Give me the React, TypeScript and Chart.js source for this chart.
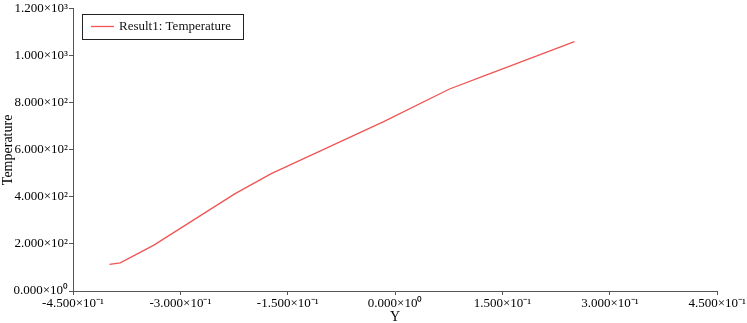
import React, { useEffect, useRef } from "react";
import { Chart, registerables } from "chart.js";

Chart.register(...registerables);

const seriesLabel = "Result1: Temperature";
const yPositions = [-0.399, -0.384, -0.337, -0.2235, -0.173, -0.136, -0.016, 0.076, 0.127, 0.2505];
const temperatures = [113, 120, 195, 414, 499, 551, 720, 859, 918, 1060];
const xTicks = [-0.45, -0.3, -0.15, 0, 0.15, 0.3, 0.45];
const yTicks = [0, 200, 400, 600, 800, 1000, 1200];

const SUP: Record<string, string> = {
  "0": "⁰", "1": "¹", "2": "²", "3": "³", "4": "⁴", "5": "⁵",
  "6": "⁶", "7": "⁷", "8": "⁸", "9": "⁹", "-": "⁻",
};

function fmt(v: number): string {
  const s = Number(v).toExponential(3);
  const [m, e] = s.split("e");
  const exp = String(parseInt(e, 10));
  return m + "×10" + exp.split("").map((c) => SUP[c] || c).join("");
}

const FONT = "'Liberation Serif', 'Times New Roman', serif";

const legendBox = {
  id: "legendBox",
  afterDraw(chart: any) {
    const ctx = chart.ctx;
    const ds = chart.data.datasets[0];
    const x = 82, y = 14, w = 161, h = 25;
    ctx.save();
    ctx.fillStyle = "#fff";
    ctx.fillRect(x, y, w, h);
    ctx.strokeStyle = "#222";
    ctx.lineWidth = 1;
    ctx.strokeRect(x + 0.5, y + 0.5, w, h);
    ctx.strokeStyle = ds.borderColor;
    ctx.lineWidth = 1.3;
    ctx.beginPath();
    ctx.moveTo(x + 9, y + 12.5);
    ctx.lineTo(x + 32, y + 12.5);
    ctx.stroke();
    ctx.fillStyle = "#111";
    ctx.font = "13px " + FONT;
    ctx.textBaseline = "middle";
    ctx.fillText(ds.label, x + 37, y + 13);
    ctx.restore();
  },
};

export default function App() {
  const ref = useRef<HTMLCanvasElement>(null);
  useEffect(() => {
    const chart = new Chart(ref.current!, {
      type: "scatter",
      data: {
        datasets: [
          {
            label: seriesLabel,
            data: yPositions.map((x, i) => ({ x, y: temperatures[i] })),
            showLine: true,
            borderColor: "rgb(240,85,85)",
            backgroundColor: "rgb(240,85,85)",
            borderWidth: 1.3,
            pointRadius: 0,
            tension: 0,
          },
        ],
      },
      options: {
        animation: false,
        responsive: false,
        maintainAspectRatio: false,
        layout: { padding: { left: 0, top: 8, right: 24, bottom: 0 } },
        plugins: { legend: { display: false }, tooltip: { enabled: false } },
        scales: {
          x: {
            type: "linear",
            min: -0.45,
            max: 0.45,
            afterBuildTicks: (s: any) => { s.ticks = xTicks.map((v) => ({ value: v })); },
            afterFit: (s: any) => { s.height = 32; },
            ticks: {
              callback: (v: any) => fmt(Number(v)),
              color: "#000",
              font: { family: FONT, size: 13 },
              padding: 1,
              maxRotation: 0,
              autoSkip: false,
            },
            grid: { display: true, drawOnChartArea: false, drawTicks: true, tickLength: 4, color: "#555" },
            border: { display: true, color: "#555", width: 1 },
            title: { display: true, text: "Y", color: "#000", font: { family: FONT, size: 14 }, padding: { top: 0, bottom: -3 } },
          },
          y: {
            type: "linear",
            min: 0,
            max: 1200,
            afterBuildTicks: (s: any) => { s.ticks = yTicks.map((v) => ({ value: v })); },
            afterFit: (s: any) => { s.width = 73; },
            ticks: {
              callback: (v: any) => fmt(Number(v)),
              color: "#000",
              font: { family: FONT, size: 13 },
              padding: 1,
              autoSkip: false,
            },
            grid: { display: true, drawOnChartArea: false, drawTicks: true, tickLength: 4, color: "#555" },
            border: { display: true, color: "#555", width: 1 },
            title: { display: true, text: "Temperature", color: "#000", font: { family: FONT, size: 14 }, padding: 0 },
          },
        },
      },
      plugins: [legendBox],
    });
    return () => chart.destroy();
  }, []);
  return (
    <div style={{ position: "fixed", left: 0, top: 0, width: 747, height: 323, background: "#fff" }}>
      <canvas ref={ref} width={747} height={323} style={{ width: 747, height: 323 }} />
    </div>
  );
}
